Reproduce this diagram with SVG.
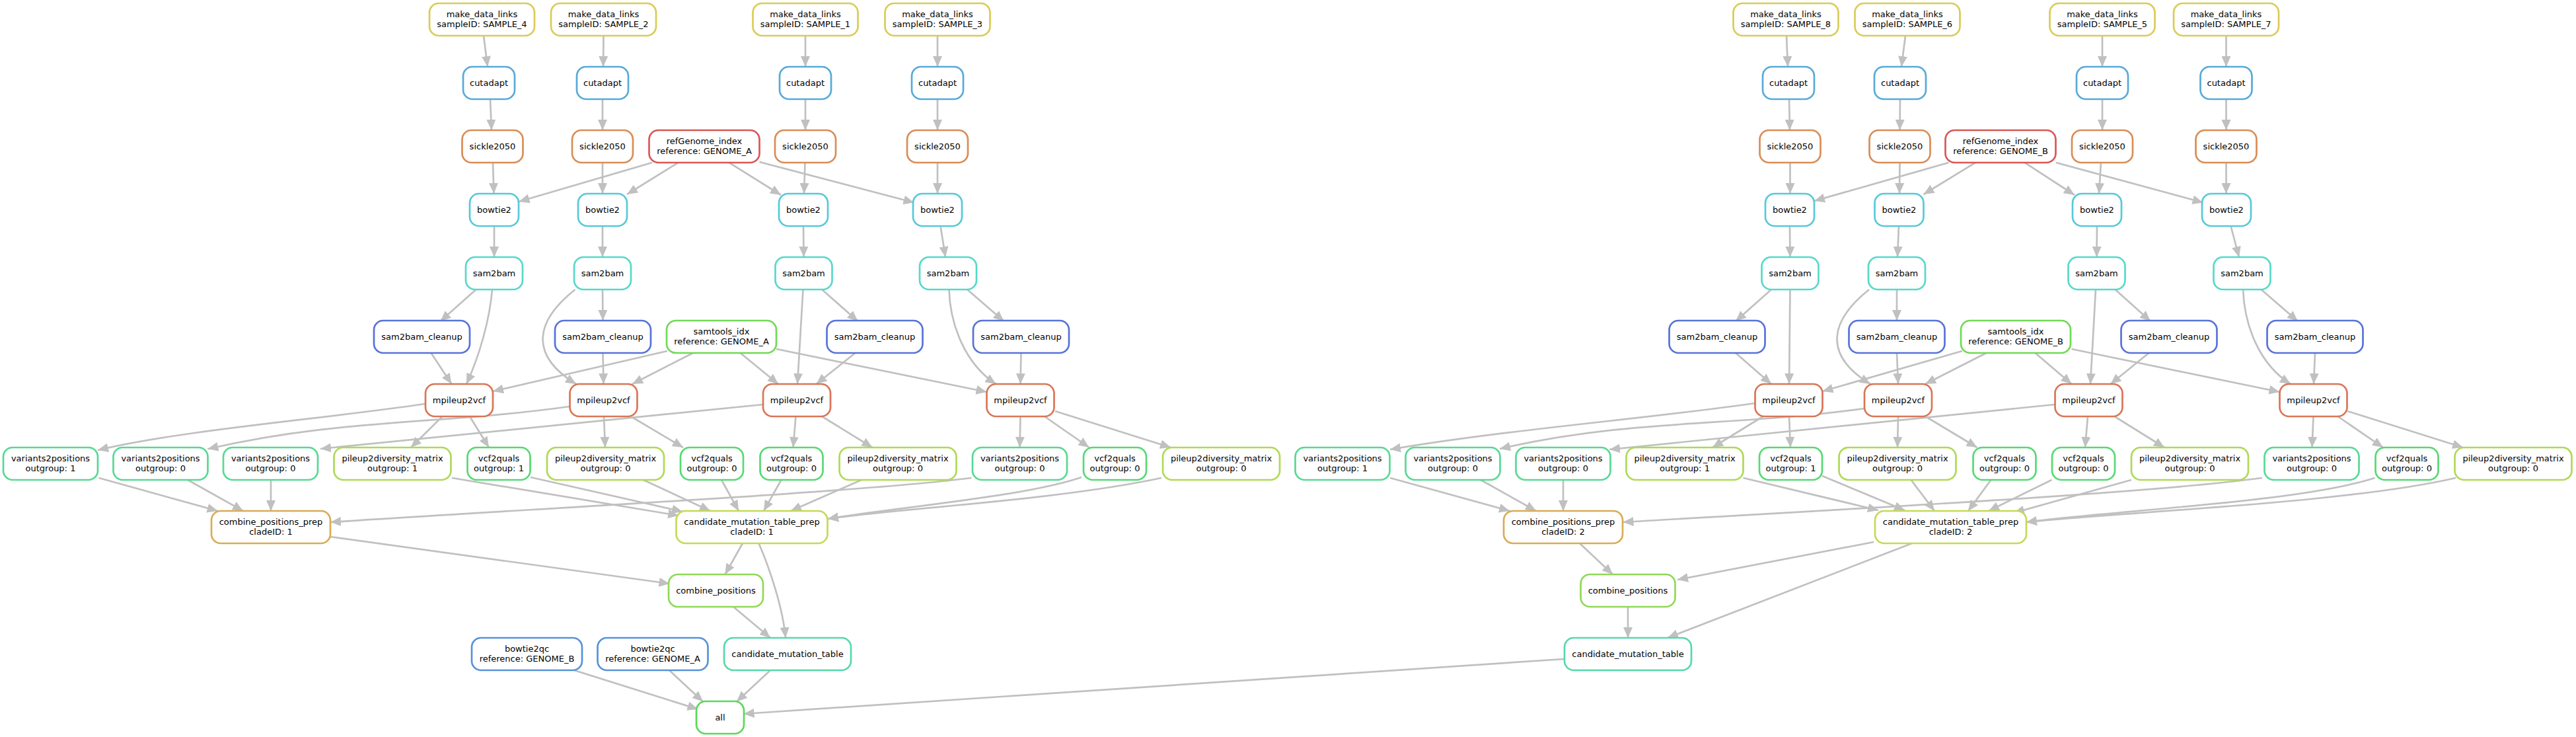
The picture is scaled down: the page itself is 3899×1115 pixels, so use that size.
<svg xmlns="http://www.w3.org/2000/svg" width="3899" height="1115" viewBox="0 0 3899 1115">
<defs>
<marker id="ah" markerUnits="userSpaceOnUse" markerWidth="16" markerHeight="14" refX="16" refY="7" orient="auto"><path d="M0,0 L16,7 L0,14 z" fill="#c0c0c0"/></marker>
<style>
.n rect{fill:#fff;stroke-width:2.7}
.n text{font-family:"DejaVu Sans",sans-serif;font-size:13px;text-anchor:middle;fill:#000}
#edges path{fill:none;stroke:#c0c0c0;stroke-width:2.7;marker-end:url(#ah)}
.c0 rect{stroke:#d95757}.c1 rect{stroke:#d97657}.c2 rect{stroke:#d98d57}.c3 rect{stroke:#d9ac57}
.c4 rect{stroke:#d9cc57}.c5 rect{stroke:#c6d957}.c6 rect{stroke:#afd957}.c7 rect{stroke:#90d957}
.c8 rect{stroke:#71d957}.c9 rect{stroke:#59d957}.c10 rect{stroke:#57d973}.c11 rect{stroke:#57d993}
.c12 rect{stroke:#57d9aa}.c13 rect{stroke:#57d9c9}.c14 rect{stroke:#57c9d9}.c15 rect{stroke:#57aad9}
.c16 rect{stroke:#5793d9}.c17 rect{stroke:#5773d9}
</style>
</defs>
<rect width="3899" height="1115" fill="#fff"/>
<g id="edges">
<path d="M732,54 L738,101"/><path d="M913.5,54 L913,101"/><path d="M1219,54 L1219,101"/><path d="M1419,54 L1419,101"/>
<path d="M2704,54 L2706,101"/><path d="M2884,54 L2878,101"/><path d="M3182,54 L3182,101"/><path d="M3369.5,54 L3369.5,101"/>
<path d="M742,150 L744,197"/><path d="M912,150 L912,197"/><path d="M1219,150 L1219,197"/><path d="M1419,150 L1419,197"/>
<path d="M2708,150 L2709,197"/><path d="M2876,150 L2875.5,197"/><path d="M3182,150 L3182,197"/><path d="M3369.5,150 L3369.5,197"/>
<path d="M746,246 L747.5,293"/><path d="M912,246 L912,293"/><path d="M1218.5,246 L1217,293"/><path d="M1419,246 L1419,293"/>
<path d="M2709.5,246 L2709.5,293"/><path d="M2875.5,246 L2875,293"/><path d="M3180,246 L3177,293"/><path d="M3369.5,246 L3369.5,293"/>
<path d="M987,246 L785.5,305"/><path d="M1026.5,246 L949,294"/><path d="M1103.5,246 L1182,295"/><path d="M1149.5,245 L1383.5,306.5"/>
<path d="M2949.5,246 L2746,304"/><path d="M2990,246 L2911.5,294"/><path d="M3064.5,246 L3140,295"/><path d="M3112,246 L3334.5,306.5"/>
<path d="M748,342 L748,389"/><path d="M912,342 L912,389"/><path d="M1216,342 L1216.5,389"/><path d="M1423.5,342 L1431,389"/>
<path d="M2709,342 L2709.5,389"/><path d="M2874,342 L2872,389"/><path d="M3174,342 L3173.5,389"/><path d="M3376.5,342 L3389,389"/>
<path d="M720.5,438 L666.5,486"/><path d="M745,438 C741,485 725,540 706,581"/><path d="M652.5,534 L683.5,581"/>
<path d="M912,438 L912.5,485"/><path d="M870.5,438 C805,490 805,540 872,581"/><path d="M912.5,534 L913.5,581"/>
<path d="M1244,438 L1298.5,486"/><path d="M1215.5,438 L1207,581"/><path d="M1294.5,534 L1235.5,581"/>
<path d="M1464,438 L1519.5,486"/><path d="M1436.5,438 C1438,490 1460,550 1507.5,581"/><path d="M1545.5,534 L1544.5,581"/>
<path d="M2681,438 L2627,486"/><path d="M2709.5,438 L2708,581"/><path d="M2627,534 L2681,581"/>
<path d="M2871,438 L2871,485"/><path d="M2829,438 C2764,490 2764,540 2831,581"/><path d="M2871,534 L2873,581"/>
<path d="M3201.5,438 L3255,486"/><path d="M3172,438 L3164,581"/><path d="M3252.5,534 L3194.5,581"/>
<path d="M3422.5,438 L3478,486"/><path d="M3395,438 C3397,490 3418,550 3467,581"/><path d="M3504,534 L3502,581"/>
<path d="M1010,531 L746,592"/><path d="M1049,534 L957,581"/><path d="M1120.5,534 L1178,581"/><path d="M1175,528 L1493.5,593"/>
<path d="M2970,531 L2758.5,592"/><path d="M3006.5,534 L2914,581"/><path d="M3080.5,534 L3135.5,581"/><path d="M3135.5,528 L3450.5,593"/>
<path d="M643,611 C480,635 280,650 148,681"/><path d="M669.5,630 L622,677"/><path d="M711,630 L740,677"/>
<path d="M862,615 C662,643 514,633 314.4,679.3"/><path d="M914,630 L916,677"/><path d="M956.5,631 L1034,677"/>
<path d="M1155,612 L485,679"/><path d="M1204.5,630 L1200.5,677"/><path d="M1244,630 L1320.5,677"/>
<path d="M1544.5,630 L1543.5,677"/><path d="M1581,630 L1648.5,677"/><path d="M1597,622 L1772,677"/>
<path d="M2657,610 C2480,635 2280,650 2104,680"/><path d="M2668.5,630 L2592,677"/><path d="M2708,630 L2710,677"/>
<path d="M2822,618 C2622,646 2470,633 2270,679"/><path d="M2873,630 L2872,677"/><path d="M2916,631 L2992.5,677"/>
<path d="M3110,612 L2436,680"/><path d="M3160,630 L3156,677"/><path d="M3200.5,630 L3276,677"/>
<path d="M3501.5,630 L3499.5,677"/><path d="M3538.5,630 L3607,677"/><path d="M3553,622 L3728,677"/>
<path d="M149.5,723 L329.5,773"/><path d="M284,726 L368,773"/><path d="M410,726 L410,773"/>
<path d="M1470.5,723 C1300,745 800,770 500,790"/>
<path d="M684,723 L1027,780"/><path d="M803,722 L1033,774"/><path d="M971.5,725 L1075,773"/><path d="M1092,726 L1118,773"/>
<path d="M1182.5,726 L1156,773"/><path d="M1304,726 L1197,773"/>
<path d="M1637,722 C1550,752 1350,768 1253,785"/><path d="M1758,723 C1600,757 1350,770 1253,785"/>
<path d="M1124,822 L1097.5,869"/><path d="M1148.5,822 C1165,860 1185,920 1189,965"/>
<path d="M499.5,812 L1013.5,883"/><path d="M1110,918 L1166,965"/>
<path d="M869,1014 L1056.5,1073"/><path d="M1013,1014 L1064,1061.5"/><path d="M1166,1014 L1115,1061.5"/><path d="M2368,997 L1125.5,1080"/>
<path d="M2104,723 L2285,773"/><path d="M2241,726 L2325,773"/><path d="M2366,726 L2366,773"/>
<path d="M3424,723 C3250,747 2760,772 2456.5,790"/>
<path d="M2638.5,723 L2843,772"/><path d="M2758,720 L2883,772"/><path d="M2892.5,726 L2928,773"/><path d="M3013.5,726 L2979,773"/>
<path d="M3105.5,726 L3010,773"/><path d="M3226,726 L3048,776"/>
<path d="M3594.5,723 C3480,760 3200,772 3067,790"/><path d="M3717,723 C3550,762 3200,775 3067,790"/>
<path d="M2836,820 L2539,877"/><path d="M2894,822 L2524,965"/><path d="M2391,822 L2441,869"/><path d="M2464,918 L2464,965"/>
</g>
<g id="mdl4" class="n c4"><rect x="650" y="5" width="159" height="49" rx="14"/><text x="729.5" y="25.5">make_data_links</text><text x="729.5" y="40.5">sampleID: SAMPLE_4</text></g>
<g id="mdl2" class="n c4"><rect x="834" y="5" width="159" height="49" rx="14"/><text x="913.5" y="25.5">make_data_links</text><text x="913.5" y="40.5">sampleID: SAMPLE_2</text></g>
<g id="mdl1" class="n c4"><rect x="1139.5" y="5" width="159" height="49" rx="14"/><text x="1219" y="25.5">make_data_links</text><text x="1219" y="40.5">sampleID: SAMPLE_1</text></g>
<g id="mdl3" class="n c4"><rect x="1339.5" y="5" width="159" height="49" rx="14"/><text x="1419" y="25.5">make_data_links</text><text x="1419" y="40.5">sampleID: SAMPLE_3</text></g>
<g id="mdl8" class="n c4"><rect x="2623.5" y="5" width="159" height="49" rx="14"/><text x="2703" y="25.5">make_data_links</text><text x="2703" y="40.5">sampleID: SAMPLE_8</text></g>
<g id="mdl6" class="n c4"><rect x="2807.5" y="5" width="159" height="49" rx="14"/><text x="2887" y="25.5">make_data_links</text><text x="2887" y="40.5">sampleID: SAMPLE_6</text></g>
<g id="mdl5" class="n c4"><rect x="3102.5" y="5" width="159" height="49" rx="14"/><text x="3182" y="25.5">make_data_links</text><text x="3182" y="40.5">sampleID: SAMPLE_5</text></g>
<g id="mdl7" class="n c4"><rect x="3290" y="5" width="159" height="49" rx="14"/><text x="3369.5" y="25.5">make_data_links</text><text x="3369.5" y="40.5">sampleID: SAMPLE_7</text></g>
<g id="ca4" class="n c15"><rect x="701" y="101" width="78" height="49" rx="14"/><text x="740" y="130">cutadapt</text></g>
<g id="ca2" class="n c15"><rect x="873" y="101" width="78" height="49" rx="14"/><text x="912" y="130">cutadapt</text></g>
<g id="ca1" class="n c15"><rect x="1180" y="101" width="78" height="49" rx="14"/><text x="1219" y="130">cutadapt</text></g>
<g id="ca3" class="n c15"><rect x="1380" y="101" width="78" height="49" rx="14"/><text x="1419" y="130">cutadapt</text></g>
<g id="ca8" class="n c15"><rect x="2668" y="101" width="78" height="49" rx="14"/><text x="2707" y="130">cutadapt</text></g>
<g id="ca6" class="n c15"><rect x="2837" y="101" width="78" height="49" rx="14"/><text x="2876" y="130">cutadapt</text></g>
<g id="ca5" class="n c15"><rect x="3143" y="101" width="78" height="49" rx="14"/><text x="3182" y="130">cutadapt</text></g>
<g id="ca7" class="n c15"><rect x="3330.5" y="101" width="78" height="49" rx="14"/><text x="3369.5" y="130">cutadapt</text></g>
<g id="sk4" class="n c2"><rect x="699.5" y="197" width="92" height="49" rx="14"/><text x="745.5" y="226">sickle2050</text></g>
<g id="sk2" class="n c2"><rect x="866" y="197" width="92" height="49" rx="14"/><text x="912" y="226">sickle2050</text></g>
<g id="sk1" class="n c2"><rect x="1173" y="197" width="92" height="49" rx="14"/><text x="1219" y="226">sickle2050</text></g>
<g id="sk3" class="n c2"><rect x="1373" y="197" width="92" height="49" rx="14"/><text x="1419" y="226">sickle2050</text></g>
<g id="sk8" class="n c2"><rect x="2663.5" y="197" width="92" height="49" rx="14"/><text x="2709.5" y="226">sickle2050</text></g>
<g id="sk6" class="n c2"><rect x="2829.5" y="197" width="92" height="49" rx="14"/><text x="2875.5" y="226">sickle2050</text></g>
<g id="sk5" class="n c2"><rect x="3136" y="197" width="92" height="49" rx="14"/><text x="3182" y="226">sickle2050</text></g>
<g id="sk7" class="n c2"><rect x="3323.5" y="197" width="92" height="49" rx="14"/><text x="3369.5" y="226">sickle2050</text></g>
<g id="refA" class="n c0"><rect x="982.5" y="197" width="167" height="49" rx="14"/><text x="1066" y="217.5">refGenome_index</text><text x="1066" y="232.5">reference: GENOME_A</text></g>
<g id="refB" class="n c0"><rect x="2944.5" y="197" width="167" height="49" rx="14"/><text x="3028" y="217.5">refGenome_index</text><text x="3028" y="232.5">reference: GENOME_B</text></g>
<g id="bt4" class="n c14"><rect x="711" y="293" width="74" height="49" rx="14"/><text x="748" y="322">bowtie2</text></g>
<g id="bt2" class="n c14"><rect x="875" y="293" width="74" height="49" rx="14"/><text x="912" y="322">bowtie2</text></g>
<g id="bt1" class="n c14"><rect x="1179" y="293" width="74" height="49" rx="14"/><text x="1216" y="322">bowtie2</text></g>
<g id="bt3" class="n c14"><rect x="1382" y="293" width="74" height="49" rx="14"/><text x="1419" y="322">bowtie2</text></g>
<g id="bt8" class="n c14"><rect x="2672" y="293" width="74" height="49" rx="14"/><text x="2709" y="322">bowtie2</text></g>
<g id="bt6" class="n c14"><rect x="2837.5" y="293" width="74" height="49" rx="14"/><text x="2874.5" y="322">bowtie2</text></g>
<g id="bt5" class="n c14"><rect x="3137" y="293" width="74" height="49" rx="14"/><text x="3174" y="322">bowtie2</text></g>
<g id="bt7" class="n c14"><rect x="3333" y="293" width="74" height="49" rx="14"/><text x="3370" y="322">bowtie2</text></g>
<g id="sb4" class="n c13"><rect x="705" y="389" width="86" height="49" rx="14"/><text x="748" y="418">sam2bam</text></g>
<g id="sb2" class="n c13"><rect x="869" y="389" width="86" height="49" rx="14"/><text x="912" y="418">sam2bam</text></g>
<g id="sb1" class="n c13"><rect x="1173.5" y="389" width="86" height="49" rx="14"/><text x="1216.5" y="418">sam2bam</text></g>
<g id="sb3" class="n c13"><rect x="1392" y="389" width="86" height="49" rx="14"/><text x="1435" y="418">sam2bam</text></g>
<g id="sb8" class="n c13"><rect x="2666.5" y="389" width="86" height="49" rx="14"/><text x="2709.5" y="418">sam2bam</text></g>
<g id="sb6" class="n c13"><rect x="2828" y="389" width="86" height="49" rx="14"/><text x="2871" y="418">sam2bam</text></g>
<g id="sb5" class="n c13"><rect x="3130.5" y="389" width="86" height="49" rx="14"/><text x="3173.5" y="418">sam2bam</text></g>
<g id="sb7" class="n c13"><rect x="3350.5" y="389" width="86" height="49" rx="14"/><text x="3393.5" y="418">sam2bam</text></g>
<g id="cl4" class="n c17"><rect x="566" y="485" width="145" height="49" rx="14"/><text x="638.5" y="514">sam2bam_cleanup</text></g>
<g id="cl2" class="n c17"><rect x="840" y="485" width="145" height="49" rx="14"/><text x="912.5" y="514">sam2bam_cleanup</text></g>
<g id="cl1" class="n c17"><rect x="1251.5" y="485" width="145" height="49" rx="14"/><text x="1324" y="514">sam2bam_cleanup</text></g>
<g id="cl3" class="n c17"><rect x="1473" y="485" width="145" height="49" rx="14"/><text x="1545.5" y="514">sam2bam_cleanup</text></g>
<g id="cl8" class="n c17"><rect x="2526.5" y="485" width="145" height="49" rx="14"/><text x="2599" y="514">sam2bam_cleanup</text></g>
<g id="cl6" class="n c17"><rect x="2798.5" y="485" width="145" height="49" rx="14"/><text x="2871" y="514">sam2bam_cleanup</text></g>
<g id="cl5" class="n c17"><rect x="3210.5" y="485" width="145" height="49" rx="14"/><text x="3283" y="514">sam2bam_cleanup</text></g>
<g id="cl7" class="n c17"><rect x="3431.5" y="485" width="145" height="49" rx="14"/><text x="3504" y="514">sam2bam_cleanup</text></g>
<g id="stA" class="n c8"><rect x="1009" y="485" width="166" height="49" rx="14"/><text x="1092" y="505.5">samtools_idx</text><text x="1092" y="520.5">reference: GENOME_A</text></g>
<g id="stB" class="n c8"><rect x="2968" y="485" width="166" height="49" rx="14"/><text x="3051" y="505.5">samtools_idx</text><text x="3051" y="520.5">reference: GENOME_B</text></g>
<g id="mp4" class="n c1"><rect x="644" y="581" width="102" height="49" rx="14"/><text x="695" y="610">mpileup2vcf</text></g>
<g id="mp2" class="n c1"><rect x="862.5" y="581" width="102" height="49" rx="14"/><text x="913.5" y="610">mpileup2vcf</text></g>
<g id="mp1" class="n c1"><rect x="1155" y="581" width="102" height="49" rx="14"/><text x="1206" y="610">mpileup2vcf</text></g>
<g id="mp3" class="n c1"><rect x="1493.5" y="581" width="102" height="49" rx="14"/><text x="1544.5" y="610">mpileup2vcf</text></g>
<g id="mp8" class="n c1"><rect x="2656.5" y="581" width="102" height="49" rx="14"/><text x="2707.5" y="610">mpileup2vcf</text></g>
<g id="mp6" class="n c1"><rect x="2822" y="581" width="102" height="49" rx="14"/><text x="2873" y="610">mpileup2vcf</text></g>
<g id="mp5" class="n c1"><rect x="3110.5" y="581" width="102" height="49" rx="14"/><text x="3161.5" y="610">mpileup2vcf</text></g>
<g id="mp7" class="n c1"><rect x="3450.5" y="581" width="102" height="49" rx="14"/><text x="3501.5" y="610">mpileup2vcf</text></g>
<g id="v2pa1" class="n c11"><rect x="5" y="677" width="143" height="49" rx="14"/><text x="76.5" y="697.5">variants2positions</text><text x="76.5" y="712.5">outgroup: 1</text></g>
<g id="v2pa2" class="n c11"><rect x="171.5" y="677" width="143" height="49" rx="14"/><text x="243" y="697.5">variants2positions</text><text x="243" y="712.5">outgroup: 0</text></g>
<g id="v2pa3" class="n c11"><rect x="338" y="677" width="143" height="49" rx="14"/><text x="409.5" y="697.5">variants2positions</text><text x="409.5" y="712.5">outgroup: 0</text></g>
<g id="p2da1" class="n c6"><rect x="505.5" y="677" width="177" height="49" rx="14"/><text x="594" y="697.5">pileup2diversity_matrix</text><text x="594" y="712.5">outgroup: 1</text></g>
<g id="vqa1" class="n c10"><rect x="707.5" y="677" width="95" height="49" rx="14"/><text x="755" y="697.5">vcf2quals</text><text x="755" y="712.5">outgroup: 1</text></g>
<g id="p2da2" class="n c6"><rect x="828" y="677" width="177" height="49" rx="14"/><text x="916.5" y="697.5">pileup2diversity_matrix</text><text x="916.5" y="712.5">outgroup: 0</text></g>
<g id="vqa2" class="n c10"><rect x="1030" y="677" width="95" height="49" rx="14"/><text x="1077.5" y="697.5">vcf2quals</text><text x="1077.5" y="712.5">outgroup: 0</text></g>
<g id="vqa3" class="n c10"><rect x="1150.5" y="677" width="95" height="49" rx="14"/><text x="1198" y="697.5">vcf2quals</text><text x="1198" y="712.5">outgroup: 0</text></g>
<g id="p2da3" class="n c6"><rect x="1270.5" y="677" width="177" height="49" rx="14"/><text x="1359" y="697.5">pileup2diversity_matrix</text><text x="1359" y="712.5">outgroup: 0</text></g>
<g id="v2pa4" class="n c11"><rect x="1472" y="677" width="143" height="49" rx="14"/><text x="1543.5" y="697.5">variants2positions</text><text x="1543.5" y="712.5">outgroup: 0</text></g>
<g id="vqa4" class="n c10"><rect x="1640" y="677" width="95" height="49" rx="14"/><text x="1687.5" y="697.5">vcf2quals</text><text x="1687.5" y="712.5">outgroup: 0</text></g>
<g id="p2da4" class="n c6"><rect x="1760" y="677" width="177" height="49" rx="14"/><text x="1848.5" y="697.5">pileup2diversity_matrix</text><text x="1848.5" y="712.5">outgroup: 0</text></g>
<g id="v2pb1" class="n c11"><rect x="1960.5" y="677" width="143" height="49" rx="14"/><text x="2032" y="697.5">variants2positions</text><text x="2032" y="712.5">outgroup: 1</text></g>
<g id="v2pb2" class="n c11"><rect x="2127.5" y="677" width="143" height="49" rx="14"/><text x="2199" y="697.5">variants2positions</text><text x="2199" y="712.5">outgroup: 0</text></g>
<g id="v2pb3" class="n c11"><rect x="2294.5" y="677" width="143" height="49" rx="14"/><text x="2366" y="697.5">variants2positions</text><text x="2366" y="712.5">outgroup: 0</text></g>
<g id="p2db1" class="n c6"><rect x="2461.5" y="677" width="177" height="49" rx="14"/><text x="2550" y="697.5">pileup2diversity_matrix</text><text x="2550" y="712.5">outgroup: 1</text></g>
<g id="vqb1" class="n c10"><rect x="2663" y="677" width="95" height="49" rx="14"/><text x="2710.5" y="697.5">vcf2quals</text><text x="2710.5" y="712.5">outgroup: 1</text></g>
<g id="p2db2" class="n c6"><rect x="2783.5" y="677" width="177" height="49" rx="14"/><text x="2872" y="697.5">pileup2diversity_matrix</text><text x="2872" y="712.5">outgroup: 0</text></g>
<g id="vqb2" class="n c10"><rect x="2986.5" y="677" width="95" height="49" rx="14"/><text x="3034" y="697.5">vcf2quals</text><text x="3034" y="712.5">outgroup: 0</text></g>
<g id="vqb3" class="n c10"><rect x="3106" y="677" width="95" height="49" rx="14"/><text x="3153.5" y="697.5">vcf2quals</text><text x="3153.5" y="712.5">outgroup: 0</text></g>
<g id="p2db3" class="n c6"><rect x="3226" y="677" width="177" height="49" rx="14"/><text x="3314.5" y="697.5">pileup2diversity_matrix</text><text x="3314.5" y="712.5">outgroup: 0</text></g>
<g id="v2pb4" class="n c11"><rect x="3427.5" y="677" width="143" height="49" rx="14"/><text x="3499" y="697.5">variants2positions</text><text x="3499" y="712.5">outgroup: 0</text></g>
<g id="vqb4" class="n c10"><rect x="3595.5" y="677" width="95" height="49" rx="14"/><text x="3643" y="697.5">vcf2quals</text><text x="3643" y="712.5">outgroup: 0</text></g>
<g id="p2db4" class="n c6"><rect x="3715.5" y="677" width="177" height="49" rx="14"/><text x="3804" y="697.5">pileup2diversity_matrix</text><text x="3804" y="712.5">outgroup: 0</text></g>
<g id="cpp1" class="n c3"><rect x="320" y="773" width="180" height="49" rx="14"/><text x="410" y="793.5">combine_positions_prep</text><text x="410" y="808.5">cladeID: 1</text></g>
<g id="cmtp1" class="n c5"><rect x="1023.5" y="773" width="229" height="49" rx="14"/><text x="1138" y="793.5">candidate_mutation_table_prep</text><text x="1138" y="808.5">cladeID: 1</text></g>
<g id="cpp2" class="n c3"><rect x="2276" y="773" width="180" height="49" rx="14"/><text x="2366" y="793.5">combine_positions_prep</text><text x="2366" y="808.5">cladeID: 2</text></g>
<g id="cmtp2" class="n c5"><rect x="2838" y="773" width="229" height="49" rx="14"/><text x="2952.5" y="793.5">candidate_mutation_table_prep</text><text x="2952.5" y="808.5">cladeID: 2</text></g>
<g id="cp1" class="n c7"><rect x="1012" y="869" width="143" height="49" rx="14"/><text x="1083.5" y="898">combine_positions</text></g>
<g id="cp2" class="n c7"><rect x="2392.5" y="869" width="143" height="49" rx="14"/><text x="2464" y="898">combine_positions</text></g>
<g id="bqcB" class="n c16"><rect x="714" y="965" width="167" height="49" rx="14"/><text x="797.5" y="985.5">bowtie2qc</text><text x="797.5" y="1000.5">reference: GENOME_B</text></g>
<g id="bqcA" class="n c16"><rect x="904.5" y="965" width="167" height="49" rx="14"/><text x="988" y="985.5">bowtie2qc</text><text x="988" y="1000.5">reference: GENOME_A</text></g>
<g id="cmt1" class="n c12"><rect x="1096" y="965" width="192" height="49" rx="14"/><text x="1192" y="994">candidate_mutation_table</text></g>
<g id="cmt2" class="n c12"><rect x="2368" y="965" width="192" height="49" rx="14"/><text x="2464" y="994">candidate_mutation_table</text></g>
<g id="all" class="n c9"><rect x="1054" y="1061" width="72" height="49" rx="14"/><text x="1090" y="1090">all</text></g>
</svg>
